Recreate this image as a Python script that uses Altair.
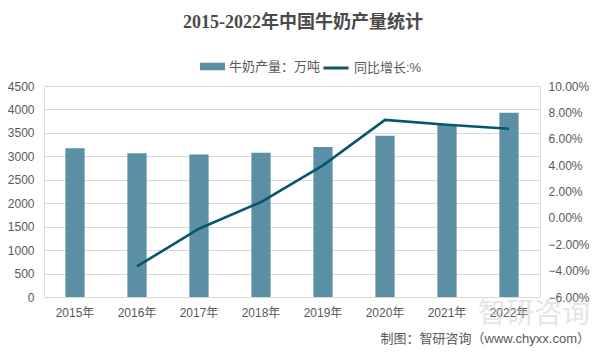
import altair as alt
import pandas as pd

years = ["2015年", "2016年", "2017年", "2018年", "2019年", "2020年", "2021年", "2022年"]
production = [3170, 3064, 3039, 3075, 3201, 3440, 3683, 3932]
growth = [None, -3.68, -0.82, 1.20, 3.98, 7.43, 7.06, 6.76]

bar_name = "牛奶产量：万吨"
line_name = "同比增长:%"

df = pd.DataFrame({"year": years, "production": production, "growth": growth})
df["s1"] = bar_name
df["s2"] = line_name

FONT = "Liberation Sans, Noto Sans CJK SC"
TXT = "#595959"

x = alt.X("year:N", sort=years, title=None,
          scale=alt.Scale(paddingInner=0, paddingOuter=0),
          axis=alt.Axis(labelAngle=0, ticks=False, domainColor="#d9d9d9",
                        labelPadding=10, labelFontSize=12, labelColor=TXT, labelFont=FONT))

bars = alt.Chart(df).mark_bar(width=alt.RelativeBandSize(0.31)).encode(
    x=x,
    y=alt.Y("production:Q", title=None,
            scale=alt.Scale(domain=[0, 4500], nice=False),
            axis=alt.Axis(values=list(range(0, 4501, 500)), format="d", ticks=False, domain=False,
                          gridColor="#d9d9d9", labelPadding=10, labelFontSize=12,
                          labelColor=TXT, labelFont=FONT)),
    color=alt.Color("s1:N", title=None,
                    scale=alt.Scale(domain=[bar_name], range=["#5b8fa6"]),
                    legend=alt.Legend(orient="none", legendX=156, legendY=-32,
                                      symbolType="M-1,-0.3H1V0.3H-1Z", symbolSize=625,
                                      labelFontSize=13, labelColor=TXT, labelFont=FONT,
                                      symbolStrokeWidth=0)),
)

line = alt.Chart(df).mark_line(strokeWidth=2.6).encode(
    x=x,
    y=alt.Y("growth:Q", title=None,
            scale=alt.Scale(domain=[-6, 10], nice=False),
            axis=alt.Axis(orient="right", values=list(range(-6, 11, 2)),
                          labelExpr="format(datum.value, '.2f') + '%'",
                          ticks=False, domain=False, grid=False, labelPadding=8,
                          labelFontSize=12, labelColor=TXT, labelFont=FONT)),
    stroke=alt.Stroke("s2:N", title=None,
                      scale=alt.Scale(domain=[line_name], range=["#07566e"]),
                      legend=alt.Legend(orient="none", legendX=278, legendY=-32,
                                        symbolType="stroke", symbolSize=625,
                                        symbolStrokeWidth=3,
                                        labelFontSize=13, labelColor=TXT, labelFont=FONT)),
)

credit = alt.Chart(pd.DataFrame({"t": ["制图：智研咨询（www.chyxx.com）"]})).mark_text(
    align="right", baseline="middle", fontSize=13, color=TXT, font=FONT
).encode(text="t:N", x=alt.value(546), y=alt.value(253))

watermark = alt.Chart(pd.DataFrame({"t": ["智研咨询"]})).mark_text(
    align="right", baseline="middle", fontSize=28, color="#cccccc", opacity=0.5, font=FONT
).encode(text="t:N", x=alt.value(546), y=alt.value(229))

chart = alt.layer(bars, line, watermark, credit).resolve_scale(
    y="independent", color="independent"
).properties(
    width=496, height=211,
    title=alt.TitleParams("2015-2022年中国牛奶产量统计", fontSize=18, fontWeight="bold",
                          color="#4a4a4a", font="Liberation Serif, Noto Sans CJK SC",
                          anchor="middle", dx=11, offset=22),
    autosize=alt.AutoSizeParams(type="none"),
    padding={"left": 36, "top": 78, "right": 58, "bottom": 59},
).configure_view(stroke=None).configure(background="white")

chart.save("out.html", embed_options={"renderer": "svg", "actions": False})
